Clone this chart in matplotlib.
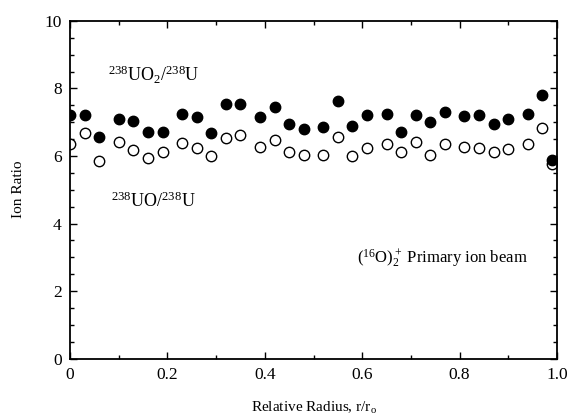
import matplotlib
matplotlib.use("Agg")
import matplotlib.pyplot as plt
from matplotlib.ticker import MultipleLocator

plt.rcParams['font.family'] = ['Liberation Serif', 'DejaVu Serif']
plt.rcParams['mathtext.fontset'] = 'custom'
plt.rcParams['mathtext.rm'] = 'Liberation Serif'
plt.rcParams['mathtext.it'] = 'Liberation Serif:italic'

# relative radius of each spot
radius = [0.00, 0.03, 0.06, 0.10, 0.13, 0.16, 0.19, 0.23, 0.26, 0.29, 0.32,
          0.35, 0.39, 0.42, 0.45, 0.48, 0.52, 0.55, 0.58, 0.61, 0.65, 0.68,
          0.71, 0.74, 0.77, 0.81, 0.84, 0.87, 0.90, 0.94, 0.97, 0.99]

# 238UO2/238U (filled)
uo2_ratio = [7.22, 7.22, 6.55, 7.10, 7.03, 6.72, 6.72, 7.25, 7.14, 6.67, 7.54,
             7.54, 7.14, 7.44, 6.95, 6.80, 6.85, 7.62, 6.90, 7.22, 7.25, 6.72,
             7.22, 7.00, 7.31, 7.19, 7.22, 6.95, 7.09, 7.25, 7.79, 5.87]

# 238UO/238U (open)
uo_ratio = [6.36, 6.67, 5.84, 6.41, 6.18, 5.93, 6.13, 6.38, 6.23, 5.99, 6.52,
            6.63, 6.26, 6.46, 6.11, 6.03, 6.03, 6.55, 6.01, 6.24, 6.36, 6.11,
            6.41, 6.03, 6.34, 6.26, 6.24, 6.11, 6.20, 6.34, 6.82, 5.75]

fig = plt.figure(figsize=(5.71, 4.17), dpi=100)
ax = fig.add_axes([0.1226, 0.140, 0.8529, 0.810])

ax.plot(radius, uo_ratio, 'o', ms=7.5, mfc='white', mec='black', mew=1.0)
ax.plot(radius, uo2_ratio, 'o', ms=7.5, mfc='black', mec='black', mew=1.0)

ax.set_xlim(0, 1.0)
ax.set_ylim(0, 10)
ax.xaxis.set_minor_locator(MultipleLocator(0.1))
ax.yaxis.set_major_locator(MultipleLocator(2))
ax.yaxis.set_minor_locator(MultipleLocator(0.5))
ax.set_xticks([0, 0.2, 0.4, 0.6, 0.8, 1.0])
ax.set_xticklabels(['0', '0.2', '0.4', '0.6', '0.8', '1.0'])

ax.tick_params(which='both', direction='in', top=True, right=True, width=1.0)
ax.tick_params(which='major', length=5, labelsize=12.5, pad=6)
ax.tick_params(which='minor', length=3)
for s in ax.spines.values():
    s.set_linewidth(1.3)

ax.set_ylabel('Ion Ratio', fontsize=11, labelpad=14)
ax.set_xlabel(r'Relative Radius, r/r$_\mathregular{o}$', fontsize=11, labelpad=12)

ax.text(0.078, 8.2, r'$\mathregular{^{238}UO_2/^{238}U}$', fontsize=13)
ax.text(0.084, 4.5, r'$\mathregular{^{238}UO/^{238}U}$', fontsize=13)
ax.text(0.59, 2.85, r'$\mathregular{(^{16}O)_2^+}$ Primary ion beam', fontsize=12)

fig.savefig('out.png', dpi=100)
